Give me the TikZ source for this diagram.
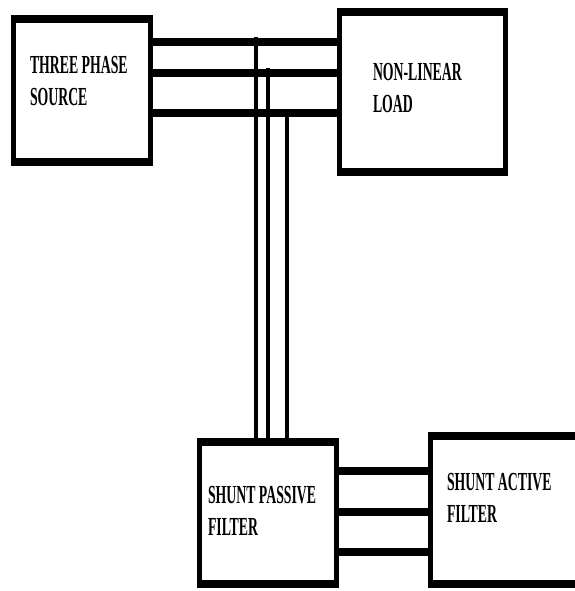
\documentclass[tikz,border=0pt]{standalone}
\usepackage{fontspec}
\newfontfamily\tnr[FakeStretch=0.53]{Liberation Serif}
\begin{document}
\begin{tikzpicture}[x=1pt,y=-1pt,
  box/.style={draw=none, inner sep=0pt, outer sep=0pt,
    path picture={
      \fill[black] (path picture bounding box.south west) rectangle (path picture bounding box.north east);
      \fill[white] ([xshift=5pt,yshift=8pt]path picture bounding box.south west) rectangle ([xshift=-5pt,yshift=-8pt]path picture bounding box.north east);}},
  lbl/.style={inner sep=0pt, outer sep=0pt, align=left, font=\tnr\bfseries\fontsize{26}{32}\selectfont},
  wire/.style={line width=8pt},
  vwire/.style={line width=4pt}]
\useasboundingbox (0,0) rectangle (574,591);
\fill[white] (0,0) rectangle (574,591);
% boxes
\node[box, minimum width=142pt, minimum height=151pt] (src) at (82,90.5) {};
\node[box, minimum width=171pt, minimum height=168pt] (load) at (422.5,92) {};
\node[box, minimum width=142pt, minimum height=150pt] (pas) at (268,513) {};
\node[box, minimum width=157pt, minimum height=156pt] (act) at (506.5,510) {};
% labels (anchored at the baseline of the last line)
\node[lbl, anchor=base west] (srct) at (30,106) {THREE PHASE\\SOURCE};
\node[lbl, anchor=base west] (loadt) at (373,113) {NON-LINEAR\\LOAD};
\node[lbl, anchor=base west] (past) at (208,535) {SHUNT PASSIVE\\FILTER};
\node[lbl, anchor=base west] (actt) at (447,522) {SHUNT ACTIVE\\FILTER};
% source to load
\draw[wire] (src.east |- 0,42) -- (load.west |- 0,42);
\draw[wire] (src.east |- 0,73) -- (load.west |- 0,73);
\draw[wire] (src.east |- 0,113) -- (load.west |- 0,113);
% taps down to passive filter
\coordinate (t1) at (256,37);
\coordinate (t2) at (268,68);
\coordinate (t3) at (287,109);
\draw[vwire] (t1) -- (t1 |- pas.north);
\draw[vwire] (t2) -- (t2 |- pas.north);
\draw[vwire] (t3) -- (t3 |- pas.north);
% passive to active
\draw[wire] (pas.east |- 0,471) -- (act.west |- 0,471);
\draw[wire] (pas.east |- 0,512) -- (act.west |- 0,512);
\draw[wire] (pas.east |- 0,552) -- (act.west |- 0,552);
\end{tikzpicture}
\end{document}
